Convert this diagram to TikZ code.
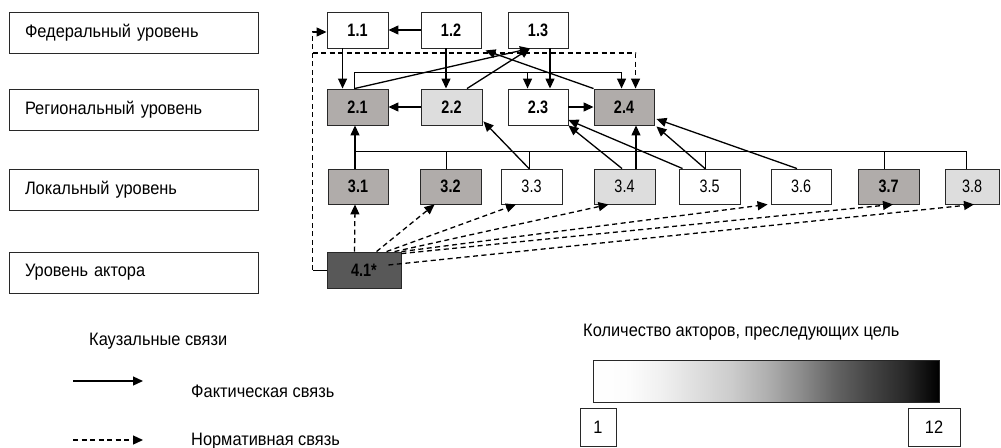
\documentclass[tikz,border=0pt]{standalone}
\usepackage{fontspec}
\setmainfont[FakeStretch=0.91]{Liberation Sans}
\newfontfamily\narrowfont[FakeStretch=0.8]{Liberation Sans}
\usetikzlibrary{arrows.meta,calc}
\definecolor{midgray}{RGB}{176,172,170}
\definecolor{lightgray2}{RGB}{221,221,221}
\definecolor{darkgray2}{RGB}{88,88,88}
\definecolor{linegray}{RGB}{40,40,40}
\pgfdeclarehorizontalshading{legendgrad}{100bp}{color(0bp)=(white); color(25bp)=(white); color(30bp)=(black!1); color(35bp)=(black!6); color(45bp)=(black!20); color(50bp)=(black!31); color(55bp)=(black!45); color(60bp)=(black!61); color(65bp)=(black!73); color(70bp)=(black!84); color(75bp)=(black); color(100bp)=(black)}
\begin{document}
\begin{tikzpicture}[x=1pt,y=-1pt,
  box/.style={draw=linegray, line width=0.9pt, rectangle, inner sep=0pt, minimum height=36pt, minimum width=61pt, font=\narrowfont\fontsize{18}{18}\selectfont},
  bbox/.style={box, font=\narrowfont\bfseries\fontsize{18}{18}\selectfont},
  lvl/.style={draw=linegray, line width=0.9pt, rectangle, minimum height=41pt, text width=217pt, inner xsep=16pt, inner ysep=0pt, align=left, font=\fontsize{18}{18}\selectfont},
  arr/.style={line width=1.3pt, -{Triangle[length=10pt,width=9pt]}},
  darr/.style={arr, dash pattern=on 5pt off 3.5pt},
  plain/.style={line width=1pt},
  txt/.style={anchor=base west, inner sep=0pt, font=\fontsize{18}{18}\selectfont},
  numbox/.style={draw=linegray, line width=0.9pt, inner sep=0pt, minimum width=36pt, minimum height=38pt, font=\fontsize{18}{18}\selectfont}
]
\useasboundingbox (0,0) rectangle (1001,447);

% level labels
\node[lvl] (L1) at (133.5,32.5) {Федеральный уровень};
\node[lvl] (L2) at (133.5,109.5) {Региональный уровень};
\node[lvl] (L3) at (133.5,189.5) {Локальный уровень};
\node[lvl] (L4) at (133.5,272.5) {Уровень актора};

% boxes
\node[bbox] (n11) at (357.5,30) {1.1};
\node[bbox, minimum width=60pt] (n12) at (451,30) {1.2};
\node[bbox, minimum width=60pt] (n13) at (538,30) {1.3};
\node[bbox, fill=midgray] (n21) at (357.5,107) {2.1};
\node[bbox, fill=lightgray2] (n22) at (451.5,107) {2.2};
\node[bbox, minimum width=60pt] (n23) at (538,107) {2.3};
\node[bbox, minimum width=60pt, fill=midgray] (n24) at (624,107) {2.4};
\node[bbox, fill=midgray, minimum width=60pt, minimum height=35pt] (n31) at (358,186.5) {3.1};
\node[bbox, fill=midgray, minimum height=35pt] (n32) at (450.5,186.5) {3.2};
\node[box, minimum height=35pt] (n33) at (531.5,186.5) {3.3};
\node[box, fill=lightgray2, minimum height=35pt] (n34) at (624.5,186.5) {3.4};
\node[box, minimum height=35pt] (n35) at (709.5,186.5) {3.5};
\node[box, minimum width=60pt, minimum height=35pt] (n36) at (801,186.5) {3.6};
\node[bbox, fill=midgray, minimum height=35pt] (n37) at (888.5,186.5) {3.7};
\node[box, fill=lightgray2, minimum width=54pt, minimum height=35pt] (n38) at (972,186.5) {3.8};
\node[bbox, fill=darkgray2, minimum width=74pt] (n41) at (364,270) {4.1*};

% top connectors
\draw[arr] (n12.west) -- (n11.east);
\draw[arr] ([xshift=16pt]n11.south west) -- ([xshift=16pt]n21.north west);
\draw[arr] ([xshift=-5pt]n12.south) -- ([xshift=-5pt]n12.south |- n22.north);
\draw[arr] ([xshift=12pt]n13.south) -- ([xshift=12pt]n13.south |- n23.north);
\draw[arr] (n24.north west) -- ([xshift=4pt,yshift=-2pt]n12.south east);
\draw[arr] ([xshift=28pt]n21.north west) -- ([xshift=-8pt]n13.south);
\draw[arr] ([xshift=15.5pt]n22.north) -- ([xshift=-8pt]n13.south);
\draw[arr] ([xshift=28pt]n21.north west) -- ++(0,-16) -| ([xshift=28pt]n24.north west);
\draw[arr] ([xshift=20pt,yshift=16pt]n23.north west) -- ([xshift=20pt]n23.north west);
\draw[arr] (n22.west) -- (n21.east);
\draw[arr] (n23.east) -- (n24.west);

% dashed from actor to top
\coordinate (c) at ([xshift=-14pt]n41.west);
\draw[plain] (n41.west) -- (c);
\draw[darr] (c) |- ([yshift=-2pt]n11.west);
\coordinate (d) at (c |- 0,53);
\draw[darr] (d) -| ([xshift=42pt]n24.north west);

% local to regional
\coordinate (bus) at (0,151);
\draw[arr] ([xshift=-3pt]n31.north) -- ([xshift=-3pt]n31.north |- n21.south);
\draw[plain] ([xshift=-3pt]n31.north |- bus) -- ([xshift=-6pt]n38.north |- bus);
\foreach \n/\s in {n32/-4.5, n33/-2.5, n35/-4.5, n37/-4.5, n38/-6}
  \draw[plain] ([xshift=\s pt]\n.north) -- ([xshift=\s pt]\n.north |- bus);
\draw[arr] ([xshift=-2.5pt]n33.north) -- ([xshift=1pt,yshift=4pt]n22.south east);
\draw[arr] ([xshift=-2.5pt]n34.north) -- (n23.south east);
\draw[arr] ([xshift=11.5pt]n34.north) -- ([xshift=11.5pt]n34.north |- n24.south);
\draw[arr] ([xshift=4pt]n35.north west) -- ([yshift=-13pt]n23.east);
\draw[arr] ([xshift=-4.5pt]n35.north) -- ([xshift=2pt,yshift=-1pt]n24.south east);
\draw[arr] ([xshift=-4pt]n36.north) -- ([xshift=2pt,yshift=-12pt]n24.east);

% actor to local
\draw[darr] ([xshift=28pt]n41.north west) -- ([xshift=-3pt]n31.south);
\draw[darr] ([xshift=50pt]n41.north west) -- ([xshift=15pt]n32.south west);
\draw[darr] ([xshift=60pt]n41.north west) -- ([xshift=-15.5pt]n33.south);
\draw[darr] ([xshift=68pt]n41.north west) -- ([xshift=-16pt]n34.south);
\draw[darr] (n41.north east) -- ([xshift=-3pt]n36.south west);
\draw[darr] ([yshift=-2pt]n41.north east) -- ([xshift=4.5pt]n37.south);
\draw[darr] ([xshift=-13pt,yshift=5pt]n41.east) -- ([xshift=2pt]n38.south);

% legend
\node[txt] (kaus) at (89,345) {Каузальные связи};
\coordinate (la1) at (73,381); \coordinate (lb1) at (143,381);
\draw[arr] (la1) -- (lb1);
\node[txt] (fakt) at (191,397) {Фактическая связь};
\coordinate (la2) at (73,440); \coordinate (lb2) at (143,440);
\draw[darr] (la2) -- (lb2);
\node[txt] (norm) at (191,445) {Нормативная связь};

\node[txt] (kol) at (583,336) {Количество акторов, преследующих цель};
\node[draw=linegray, line width=0.9pt, shade, shading=legendgrad, minimum width=346pt, minimum height=42pt, inner sep=0pt] (gbar) at (766,381) {};
\node[numbox] (one) at (598,427) {1};
\node[numbox, minimum width=52pt] (twelve) at (934,427) {12};
\end{tikzpicture}
\end{document}
